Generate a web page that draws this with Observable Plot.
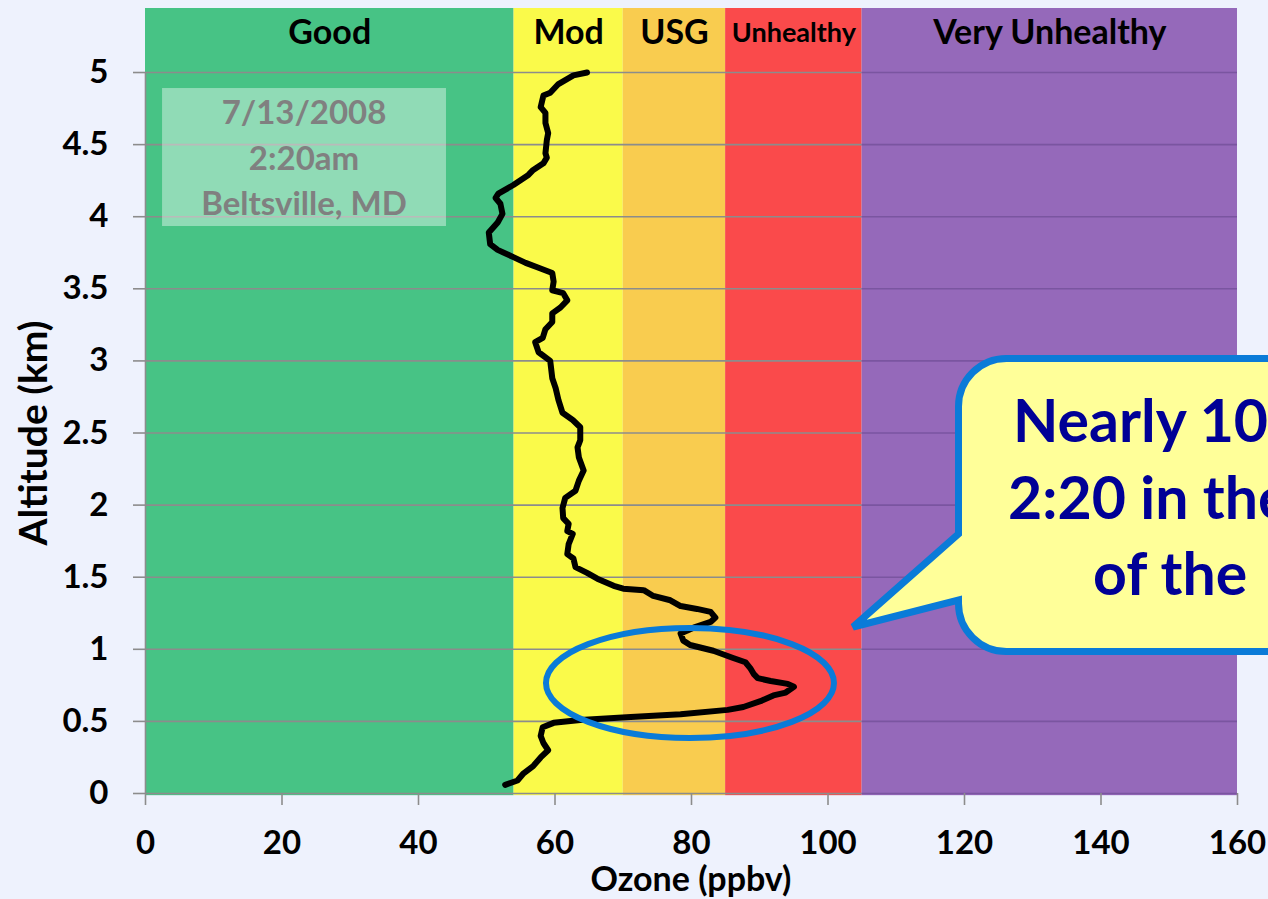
<!DOCTYPE html>
<html><head><meta charset="utf-8">
<script src="https://cdn.jsdelivr.net/npm/d3@7"></script>
<script src="https://cdn.jsdelivr.net/npm/@observablehq/plot@0.6"></script>
<style>
html,body{margin:0;padding:0;background:#EEF2FD;overflow:hidden}
#chart svg{display:block;overflow:hidden}
</style></head><body><div id="chart"></div>
<script>
// AQI category bands (ozone ppbv)
const bandNames = ["Good", "Mod", "USG", "Unhealthy", "Very Unhealthy"];
const bandStart = [0, 54, 70, 85, 105];
const bandEnd = [54, 70, 85, 105, 160];
const bandColors = ["#47C385", "#FAFA4A", "#F9CC4F", "#FA4A4B", "#9569BA"];

// Ozone profile (ppbv) vs altitude (km)
const ozone = [52.7,54.5,55.4,56.8,57.9,59.0,58.3,57.9,58.2,59.8,63.7,71.1,78.4,85.3,87.6,90.1,92.0,93.8,95.0,94.1,91.6,89.7,89.1,88.6,87.9,86.1,83.2,79.8,78.8,78.4,80.3,82.8,83.5,82.8,80.8,78.4,76.9,74.4,73.0,70.0,68.6,66.2,64.7,63.0,62.7,61.8,62.0,62.6,61.8,62.0,61.2,61.1,61.5,63.0,63.5,64.2,63.5,63.3,63.7,63.7,62.6,61.1,60.5,60.1,59.6,59.3,57.6,57.1,58.2,58.6,59.6,59.6,60.8,61.8,61.2,59.6,59.8,59.6,57.4,55.7,53.9,51.6,50.5,50.3,51.6,52.3,52.0,51.3,51.7,53.9,56.1,56.7,58.3,58.8,58.6,58.8,59.0,58.6,58.6,57.9,58.3,59.3,60.5,62.7,64.7];
const altitude = [0.06,0.09,0.14,0.19,0.25,0.30,0.35,0.40,0.46,0.49,0.51,0.53,0.55,0.58,0.60,0.64,0.68,0.70,0.74,0.76,0.78,0.80,0.83,0.87,0.91,0.94,0.99,1.03,1.06,1.11,1.15,1.19,1.22,1.26,1.28,1.30,1.34,1.37,1.41,1.42,1.44,1.49,1.53,1.57,1.63,1.66,1.73,1.80,1.82,1.87,1.91,1.98,2.05,2.10,2.17,2.24,2.33,2.40,2.45,2.54,2.59,2.64,2.73,2.81,2.88,3.00,3.06,3.13,3.16,3.22,3.27,3.33,3.37,3.42,3.47,3.49,3.55,3.61,3.65,3.68,3.72,3.77,3.81,3.89,3.96,4.02,4.09,4.13,4.16,4.22,4.29,4.32,4.37,4.41,4.44,4.53,4.58,4.65,4.72,4.76,4.84,4.86,4.92,4.98,5.00];

const xTicks = [0, 20, 40, 60, 80, 100, 120, 140, 160];
const yTicks = [0, 0.5, 1, 1.5, 2, 2.5, 3, 3.5, 4, 4.5, 5];

const infoLines = ["7/13/2008", "2:20am", "Beltsville, MD"];
const calloutLines = ["Nearly 100", "2:20 in the", "of the"];
const xLabel = "Ozone (ppbv)";
const yLabel = "Altitude (km)";

const bands = bandNames.map((name, i) => ({name, x1: bandStart[i], x2: bandEnd[i], color: bandColors[i]}));
const profile = ozone.map((o, i) => ({ozone: o, alt: altitude[i]}));
const yTop = 5.444;
const labelY = 5.27;
const FONT = "Lato, 'Open Sans', sans-serif";

const plot = Plot.plot({
  width: 1268, height: 899,
  marginLeft: 145, marginRight: 31, marginTop: 8, marginBottom: 106,
  x: {domain: [0, 160]},
  y: {domain: [0, yTop]},
  color: {type: "identity"},
  style: {background: "transparent", fontFamily: FONT, fontWeight: "bold", color: "black"},
  marks: [
    Plot.rect(bands, {x1: "x1", x2: "x2", y1: -0.015, y2: yTop, fill: "color"}),
    Plot.ruleY(yTicks, {x1: 0, x2: 105, stroke: "#8C8C8C", strokeWidth: 1.6}),
    Plot.ruleY(yTicks, {x1: 105, x2: 160, stroke: "#7A55A0", strokeWidth: 1.6}),
    Plot.ruleX([0], {y1: 0, y2: 5, stroke: "#8C8C8C", strokeWidth: 1.6}),
    Plot.axisY(yTicks, {tickSize: 12, tickPadding: 25, stroke: "#8C8C8C", strokeWidth: 1.6, fill: "black", fontSize: 33, fontWeight: "bold", label: null, tickFormat: d => String(d)}),
    Plot.axisX(xTicks, {tickSize: 12, tickPadding: 25, stroke: "#8C8C8C", strokeWidth: 1.6, fill: "black", fontSize: 33, fontWeight: "bold", label: null, tickFormat: d => String(d)}),
    Plot.text(bands.filter(d => d.name !== "Unhealthy"), {x: d => (d.x1 + d.x2) / 2, y: () => labelY, text: "name", fontSize: 34, fontWeight: "bold", fill: "black"}),
    Plot.text(bands.filter(d => d.name === "Unhealthy"), {x: d => (d.x1 + d.x2) / 2, y: () => labelY, text: "name", fontSize: 27, fontWeight: "bold", fill: "black"}),
    Plot.line(profile, {x: "ozone", y: "alt", stroke: "black", strokeWidth: 6, strokeLinejoin: "round", strokeLinecap: "round"})
  ]
});

document.getElementById("chart").appendChild(plot);
const svg = d3.select(plot);
const sx = plot.scale("x"), sy = plot.scale("y");
const X = v => sx.apply(v), Y = v => sy.apply(v);

// info box
const box = svg.append("g");
box.append("rect").attr("x", X(2.5)).attr("y", Y(4.889)).attr("width", X(44.1) - X(2.5)).attr("height", Y(3.932) - Y(4.889))
  .attr("fill", "white").attr("fill-opacity", 0.4);
infoLines.forEach((t, i) => {
  box.append("text").attr("x", X(23.3)).attr("y", 124 + i * 45.5).attr("text-anchor", "middle")
    .attr("font-family", FONT).attr("font-weight", "bold").attr("font-size", 33).attr("fill", "#808080").text(t);
});

// ellipse
svg.append("ellipse").attr("cx", X(79.85)).attr("cy", Y(0.763)).attr("rx", 144).attr("ry", 55)
  .attr("fill", "none").attr("stroke", "#0A7BD8").attr("stroke-width", 6);

// callout bubble
const L = 958.5, T = 358.5, B = 651.5, R = 1330, r = 48;
const path = `M${L + r},${T} H${R} V${B} H${L + r} A${r},${r} 0 0 1 ${L},${B - r} V600 L853,627 L${L},534 V${T + r} A${r},${r} 0 0 1 ${L + r},${T} Z`;
svg.append("path").attr("d", path).attr("fill", "#FFFF99").attr("stroke", "#0A7BD8").attr("stroke-width", 7).attr("stroke-linejoin", "miter");
const cx = [1013, 1008, 1093];
calloutLines.forEach((t, i) => {
  svg.append("text").attr("x", cx[i]).attr("y", 442 + i * 76.5).attr("text-anchor", "start")
    .attr("font-family", FONT).attr("font-weight", "bold").attr("font-size", 59).attr("fill", "#000096").text(t);
});

// axis titles
svg.append("text").attr("x", 691).attr("y", 891).attr("text-anchor", "middle")
  .attr("font-family", FONT).attr("font-weight", "bold").attr("font-size", 34).attr("fill", "black").text(xLabel);
svg.append("text").attr("transform", "translate(47,433) rotate(-90)").attr("text-anchor", "middle")
  .attr("font-family", FONT).attr("font-weight", "bold").attr("font-size", 39).attr("fill", "black").text(yLabel);
</script></body></html>
